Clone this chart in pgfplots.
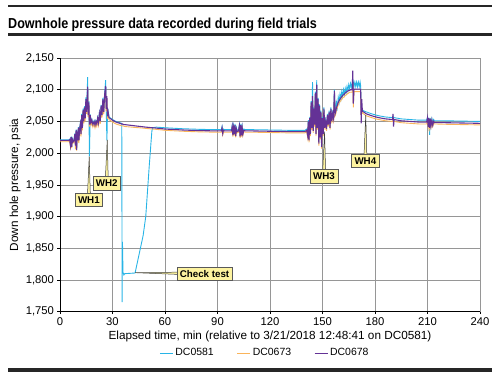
\documentclass[border=0pt]{standalone}
\usepackage{fontspec}
\setmainfont{Liberation Sans}
\newfontfamily\titlefont[FakeStretch=0.87]{Liberation Sans}
\usepackage{pgfplots}
\pgfplotsset{compat=1.18}
\usepackage{pgfplotstable}

\definecolor{cblue}{RGB}{40,180,230}
\definecolor{corange}{RGB}{250,180,90}
\definecolor{cpurple}{RGB}{100,50,150}
\definecolor{callout}{RGB}{253,243,160}
\definecolor{gridgray}{RGB}{150,150,150}
\definecolor{pointer}{RGB}{60,60,60}
\tikzset{callbox/.style={draw=black!65, fill=callout, line width=0.6pt,
    inner xsep=3bp, inner ysep=3.2bp, text height=7.2bp, text depth=0bp,
    font=\bfseries\fontsize{9.8}{11}\selectfont},
  wedge/.style={fill=callout, draw=pointer, line width=0.5pt, line join=miter}}

\pgfplotstableread{
t blue orange purple
0 2021 2018 2020
5 2021 2018 2020
5.5 2022 2019 2021
6 2013 2010 2012
6.3 2026 2022 2025
6.7 2011 2008 2010
7 2023 2019 2022
7.5 2019 2016 2018
8 2021 2018 2020
8.5 2031 2027 2030
8.8 2013 2006 2012
9.2 2037 2033 2036
9.5 2006 2004 2005
9.8 2031 2027 2030
10.2 2026 2022 2025
10.5 2041 2037 2040
10.8 2021 2016 2020
11.2 2039 2035 2038
11.6 2047 2043 2045
12 2031 2026 2030
12.4 2062 2058 2060
12.8 2041 2036 2040
13.2 2070 2066 2068
13.6 2051 2047 2050
14 2074 2070 2072
14.4 2056 2050 2055
14.8 2088 2082 2085
15.2 2066 2062 2065
15.8 2120 2100 2105
16.1 2062 2057 2060
16.5 2082 2077 2080
16.8 1995 2042 2045
17.3 2061 2056 2060
17.7 2049 2044 2048
18.2 2053 2048 2052
18.8 2046 2041 2045
19.5 2051 2046 2050
20 2045 2040 2044
20.5 2051 2046 2050
21 2047 2042 2046
21.5 2056 2051 2055
22 2049 2044 2048
22.5 2063 2058 2062
23 2051 2046 2050
23.5 2076 2071 2075
24 2061 2056 2060
24.5 2087 2081 2085
25 2066 2061 2065
25.5 2094 2088 2092
26.1 2115 2100 2106
26.4 2072 2066 2070
26.8 2020 2086 2090
27.1 2059 2054 2058
27.5 2066 2061 2065
28 2057 2053 2056
29 2055 2051 2054
30 2053 2049 2052
32 2050 2046 2049
35.3 2047 2043 2046
35.5 1765 2043 2046
35.7 1860 2043 2046
36 1812 2043 2045.5
36.5 1808 2042.5 2045
37 1810 2042 2045
42.9 1811 2040.5 2043
47.5 1870 2039.5 2041.5
49 1900 2039 2041
51 1980 2038.5 2040.5
52.5 2035 2038 2040
53 2040 2038 2040
55 2041 2037.5 2039.5
60 2040 2036 2038
70 2038.5 2034.5 2036.5
80 2037.5 2033.5 2035.5
90 2037 2033 2035
92.2 2037 2033 2035
92.6 2042 2037 2040
93 2033 2029 2031
93.4 2038 2034 2036
94 2037 2033 2035
98 2037 2033 2035
98.4 2044 2039 2042
98.8 2030 2026 2028
99.2 2042 2038 2040
99.6 2032 2028 2030
100 2046 2041 2044
100.4 2029 2025 2027
100.8 2040 2036 2038
101.2 2036 2032 2034
102 2037 2033 2035
102.5 2045 2040 2043
102.9 2028 2024 2026
103.3 2046 2041 2044
103.7 2030 2026 2028
104.1 2042 2038 2040
104.5 2032 2028 2030
105 2038 2034 2036
106 2037 2033 2035
110 2037 2033 2035
120 2036.5 2032.5 2034.5
130 2036 2032 2034
140 2036 2032 2034
141 2038 2034 2036
141.5 2030 2025 2028
141.9 2052 2047 2050
142.3 2022 2017 2020
142.7 2057 2052 2055
143.1 2032 2027 2030
143.5 2082 2076 2080
143.9 2042 2037 2040
144.3 2112 2085 2090
144.7 2037 2032 2035
145.1 2072 2066 2070
145.5 2047 2042 2045
145.9 2097 2091 2095
146.3 2032 2027 2030
146.7 2115 2100 2108
147.1 2042 2037 2040
147.5 2087 2081 2085
147.9 2017 2012 2015
148.3 2077 2071 2075
148.7 2027 2022 2025
149.1 2067 2061 2065
149.5 2012 2007 2010
150 2057 2051 2055
150.4 2032 2027 2030
150.8 2072 2066 2070
151.3 2042 2037 2040
151.8 2052 2047 2050
152.3 2040 2035 2038
152.8 2062 2057 2060
153.3 2047 2042 2045
153.8 2067 2062 2065
154.3 2042 2037 2040
154.8 2072 2067 2070
155.3 2052 2047 2050
155.8 2064 2059 2062
156.3 2057 2052 2055
156.8 2100 2090 2098
157.2 2064 2059 2062
157.6 2072 2062 2066
158 2080 2068 2072
158.5 2072 2072 2076
159 2088 2076 2080
159.5 2080 2079 2083
160 2093 2081 2085
160.5 2085 2083 2087
161 2097 2085 2089
161.5 2089 2087 2091
162 2100 2088 2092
162.5 2092 2089 2093
163 2102 2091 2095
163.5 2095 2092 2096
164 2105 2093 2097
164.5 2098 2094 2098
165 2108 2095 2099
165.5 2101 2096 2099
166 2110 2096 2100
166.5 2104 2096 2100
167 2111 2096 2100
167.3 2105 2110 2130
167.6 2112 2072 2078
168 2105 2097 2101
168.5 2112 2097 2101
169 2105 2097 2101
169.5 2112 2097 2101
170 2105 2097 2101
170.5 2112 2097 2101
171 2105 2097 2101
171.5 2112 2097 2101
171.8 2106 2097 2101
172.1 2072 2060 2047
172.4 2070 2070 2085
172.8 2068 2063 2066
174 2066 2061 2064
175 2065 2059 2062
178 2062 2056 2059
182 2059 2053 2056
186 2057 2051 2054
190 2056 2050 2053
190.3 2058 2052 2062
190.6 2055 2049 2042
190.9 2056 2050 2053
195 2054 2048 2051
200 2053 2047 2050
205 2052 2046 2049
209.5 2052 2046 2049
210 2056 2050 2056
210.4 2044 2041 2041
210.8 2056 2052 2055
211.2 2029 2040 2040
211.6 2055 2050 2054
212 2045 2041 2043
212.5 2054 2049 2052
213 2046 2042 2044
213.5 2053 2047 2050
214 2051 2046 2048
220 2051 2045.5 2048
230 2050.5 2045 2047.5
240 2050 2044.5 2047
}\dhp

\begin{document}
\begin{tikzpicture}
\path[use as bounding box] (0bp,0bp) rectangle (500bp,377bp);
% rules
\fill[black!85] (7.5bp,369.6bp) rectangle (492bp,372.2bp);
\fill[black!85] (7.5bp,341.1bp) rectangle (492bp,343.7bp);
\fill[black!85] (7.5bp,5.4bp) rectangle (492bp,8.6bp);
\node[anchor=base west, inner sep=0pt] at (8bp,348.7bp)
  {\titlefont\bfseries\fontsize{14.5}{16}\selectfont Downhole pressure data recorded during field trials};

\begin{axis}[
  at={(60bp,65.3bp)}, anchor=south west,
  scale only axis, width=420bp, height=253.7bp,
  xmin=0, xmax=240, ymin=1750, ymax=2150,
  xtick={0,30,...,240}, ytick={1750,1800,...,2150},
  axis x line*=bottom, axis y line*=left,
  grid=major, grid style={gridgray, line width=0.6pt},
  axis line style={black, line width=0.9pt},
  tick align=outside, major tick length=2.5bp,
  tick style={black, line width=0.6pt},
  /pgf/number format/assume math mode=true,
  /pgf/number format/1000 sep={,},
  tick label style={font=\fontsize{11.3}{13}\selectfont},
  label style={font=\fontsize{11.8}{14}\selectfont},
  xlabel={Elapsed time, min (relative to 3/21/2018 12:48:41 on DC0581)},
  ylabel={Down hole pressure, psia},
  xlabel style={at={(axis description cs:0.5,-0.0985)}, anchor=center},
  ylabel style={at={(axis description cs:-0.107,0.5)}, anchor=center},
  legend style={at={(0.488,-0.163)}, anchor=center, draw=none, fill=none,
    font=\fontsize{10.5}{12}\selectfont, legend columns=3,
    /tikz/every even column/.append style={column sep=21bp}},
  legend image code/.code={\draw[#1, line width=1pt] (0bp,0bp) -- (13bp,0bp);},
]
\addplot[cblue, line width=0.9pt] table[x=t,y=blue]{\dhp};
\addplot[corange, line width=0.9pt] table[x=t,y=orange]{\dhp};
\addplot[cpurple, line width=1.1pt] table[x=t,y=purple]{\dhp};
\legend{DC0581,DC0673,DC0678}

% pointers
\path[wedge] (axis cs:16.7,1995) -- ([xshift=-1.6bp]axis cs:16.5,1927) -- ([xshift=1.6bp]axis cs:16.5,1927) -- cycle;
\path[wedge] (axis cs:27,2021) -- ([xshift=-1.6bp]axis cs:26.7,1952) -- ([xshift=1.6bp]axis cs:26.7,1952) -- cycle;
\path[wedge] (axis cs:43,1811.5) -- ([yshift=-1.8bp]axis cs:82.6,1810) -- ([yshift=1.8bp]axis cs:82.6,1810) -- cycle;
\path[wedge] (axis cs:151.2,2034) -- ([xshift=-1.6bp]axis cs:150.9,1964) -- ([xshift=1.6bp]axis cs:150.9,1964) -- cycle;
\path[wedge] (axis cs:174.7,2060) -- ([xshift=-1.6bp]axis cs:174.5,1988) -- ([xshift=1.6bp]axis cs:174.5,1988) -- cycle;
% callout boxes
\node[callbox] at (axis cs:16.5,1926.7) {WH1};
\node[callbox] at (axis cs:26.7,1952.5) {WH2};
\node[callbox] at (axis cs:82.6,1809.8) {Check test};
\node[callbox] at (axis cs:150.9,1963.7) {WH3};
\node[callbox] at (axis cs:174.5,1987.7) {WH4};
\end{axis}
\end{tikzpicture}
\end{document}
